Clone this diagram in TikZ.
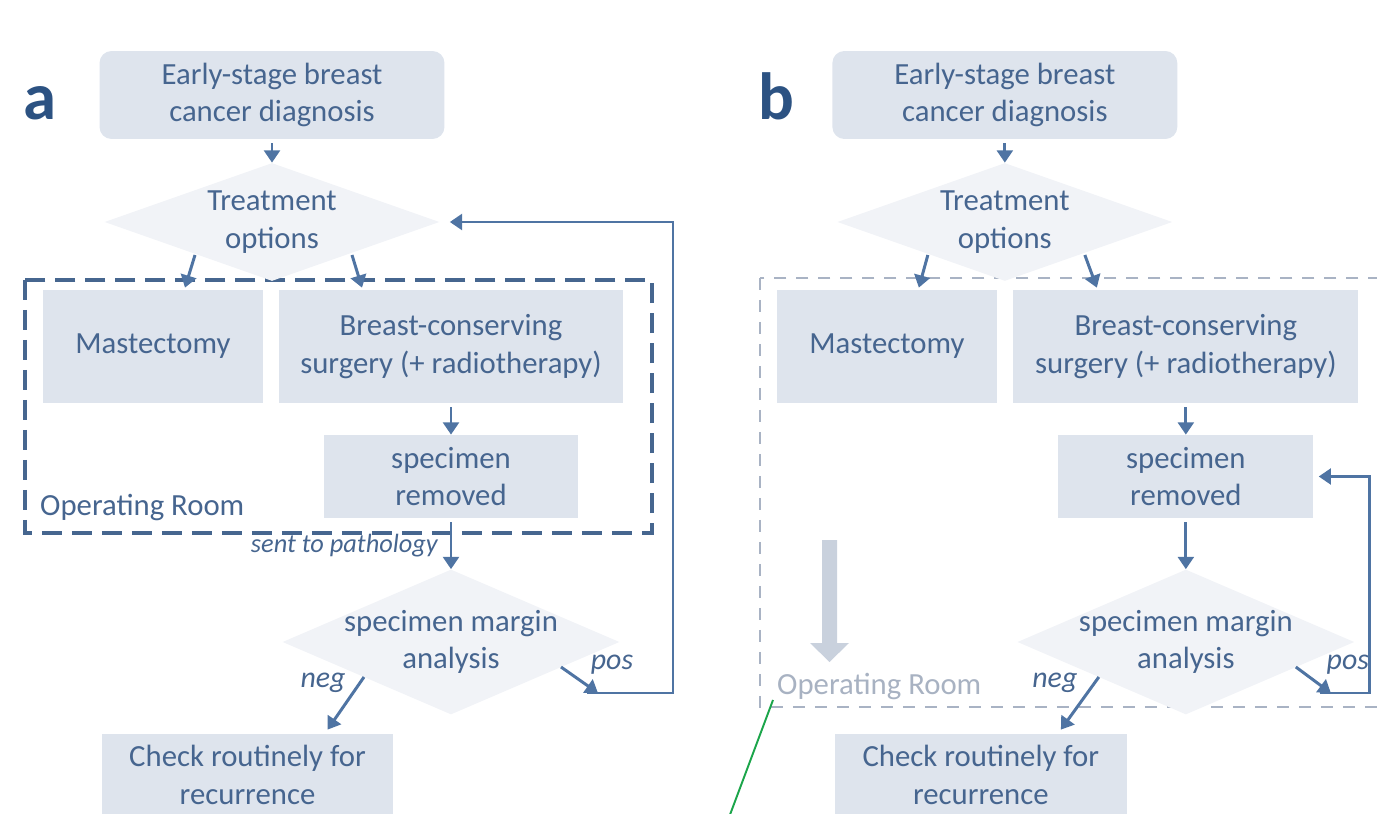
\documentclass[tikz,border=0pt]{standalone}
\usepackage{fontspec}
\setmainfont{Carlito}
\usetikzlibrary{shapes.geometric,arrows.meta,calc}
\definecolor{txtblue}{HTML}{46658F}
\definecolor{boxfill}{HTML}{DEE4ED}
\definecolor{decfill}{HTML}{F1F3F7}
\definecolor{arrblue}{HTML}{4F74A3}
\definecolor{darkdash}{HTML}{46668F}
\definecolor{lightdash}{HTML}{A9B3C4}
\definecolor{paleblue}{HTML}{C9D1DD}
\definecolor{paletxt}{HTML}{A8B2C2}
\definecolor{panelblue}{HTML}{2C5282}
\definecolor{markgreen}{HTML}{1BA54A}
\begin{document}
\begin{tikzpicture}[x=0.02cm,y=-0.02cm,
  box/.style={fill=boxfill,text=txtblue,font=\fontsize{17.5}{21.5}\selectfont,align=center,inner sep=0pt},
  decision/.style={diamond,fill=decfill,inner sep=0pt},
  lbl/.style={text=txtblue,font=\fontsize{17.5}{21.5}\selectfont,align=center},
  note/.style={text=txtblue,font=\fontsize{17}{20}\selectfont\itshape},
  arr/.style={draw=arrblue,line width=1.7pt,-{Triangle[width=9pt,length=7pt]}},
  panel/.style={text=panelblue,font=\fontsize{38}{40}\selectfont\bfseries,anchor=base}]
\useasboundingbox (0,0) rectangle (1377,814);

% panel a
\node[panel] (lab-a) at (40,120) {a};
\draw[darkdash,line width=1.8pt,dash pattern=on 0.4cm off 0.2cm] (25,280) rectangle (652,533);
\node[box,rounded corners=0.24cm,minimum width=6.9cm,minimum height=1.76cm] (diag-a) at (272,95) {Early-stage breast\\cancer diagnosis};
\node[decision,minimum width=6.7cm,minimum height=2.36cm] (treat-a) at (272,222) {};
\node[lbl] (treat-a-t) at (treat-a) {Treatment\\options};
\node[box,minimum width=4.4cm,minimum height=2.26cm] (mast-a) at (153,346.5) {Mastectomy};
\node[box,minimum width=6.88cm,minimum height=2.26cm] (bcs-a) at (451,346.5) {Breast-conserving\\surgery (+ radiotherapy)};
\node[box,minimum width=5.1cm,minimum height=1.66cm] (spec-a) at (451,476.5) {specimen\\removed};
\node[decision,minimum width=6.74cm,minimum height=2.9cm] (marg-a) at (451,642) {};
\node[lbl] (marg-a-t) at (marg-a) {specimen margin\\analysis};
\node[box,minimum width=5.82cm,minimum height=1.64cm] (check-a) at (247.5,775) {Check routinely for\\recurrence};
\node[lbl,anchor=west] (room-a) at (34,508) {Operating Room};
\node[note,font=\fontsize{15}{17}\selectfont\itshape,anchor=east] (sent-a) at (444,546) {sent to pathology};
\node[note] (neg-a) at (323,683) {neg};
\node[note] (pos-a) at (612,665) {pos};
\coordinate (loop-a) at (598,693);

\draw[arr,shorten <=0.08cm] (diag-a) -- (treat-a);
\draw[arr] ($(treat-a)+(-77,33)$) -- ($(mast-a.north)+(32,-2)$);
\draw[arr] ($(treat-a)+(80,33)$) -- ($(bcs-a.north)+(-89,-2)$);
\draw[arr,shorten <=0.08cm] (bcs-a) -- (spec-a);
\draw[arr,shorten <=0.08cm] (spec-a) -- (marg-a);
\draw[arr] ($(marg-a)+(-87,35)$) -- ($(check-a.north)+(80,-4)$);
\draw[arr] ($(marg-a)+(110,25)$) -- (loop-a);
\draw[arr] ($(loop-a)+(-11,0)$) -- (673,693) |- ($(treat-a.east)+(10,0)$);

% panel b
\node[panel] (lab-b) at (776,120) {b};
\draw[lightdash,line width=1.6pt,dash pattern=on 0.24cm off 0.2cm] (760,278) rectangle (1400,707);
\fill[paleblue] (822,540) -- (837,540) -- (837,643) -- (849,643) -- (829.5,662) -- (810,643) -- (822,643) -- cycle;
\node[lbl,text=paletxt,anchor=west] (room-b) at (771,687) {Operating Room};
\begin{scope}[xshift=14.66cm]
\node[box,rounded corners=0.24cm,minimum width=6.9cm,minimum height=1.76cm] (diag-b) at (272,95) {Early-stage breast\\cancer diagnosis};
\node[decision,minimum width=6.7cm,minimum height=2.36cm] (treat-b) at (272,222) {};
\node[lbl] (treat-b-t) at (treat-b) {Treatment\\options};
\node[box,minimum width=4.4cm,minimum height=2.26cm] (mast-b) at (154,346.5) {Mastectomy};
\node[box,minimum width=6.9cm,minimum height=2.26cm] (bcs-b) at (453,346.5) {Breast-conserving\\surgery (+ radiotherapy)};
\node[box,minimum width=5.1cm,minimum height=1.66cm] (spec-b) at (453,476.5) {specimen\\removed};
\node[decision,minimum width=6.74cm,minimum height=2.9cm] (marg-b) at (453,642) {};
\node[lbl] (marg-b-t) at (marg-b) {specimen margin\\analysis};
\node[box,minimum width=5.84cm,minimum height=1.64cm] (check-b) at (248,775) {Check routinely for\\recurrence};
\node[note] (neg-b) at (322,683) {neg};
\node[note] (pos-b) at (615,665) {pos};
\coordinate (loop-b) at (598,693);

\draw[arr,shorten <=0.08cm] (diag-b) -- (treat-b);
\draw[arr] ($(treat-b)+(-77,33)$) -- ($(mast-b.north)+(32,-2)$);
\draw[arr] ($(treat-b)+(80,33)$) -- ($(bcs-b.north)+(-89,-2)$);
\draw[arr,shorten <=0.08cm] (bcs-b) -- (spec-b);
\draw[arr,shorten <=0.08cm] (spec-b) -- (marg-b);
\draw[arr] ($(marg-b)+(-87,35)$) -- ($(check-b.north)+(80,-4)$);
\draw[arr] ($(marg-b)+(110,25)$) -- (loop-b);
\draw[arr] ($(loop-b)+(-11,0)$) -- (637,693) |- ($(spec-b.east)+(5,0)$);
\end{scope}

\draw[markgreen,line width=1.1pt] (773,700) -- (728,820);
\end{tikzpicture}
\end{document}
